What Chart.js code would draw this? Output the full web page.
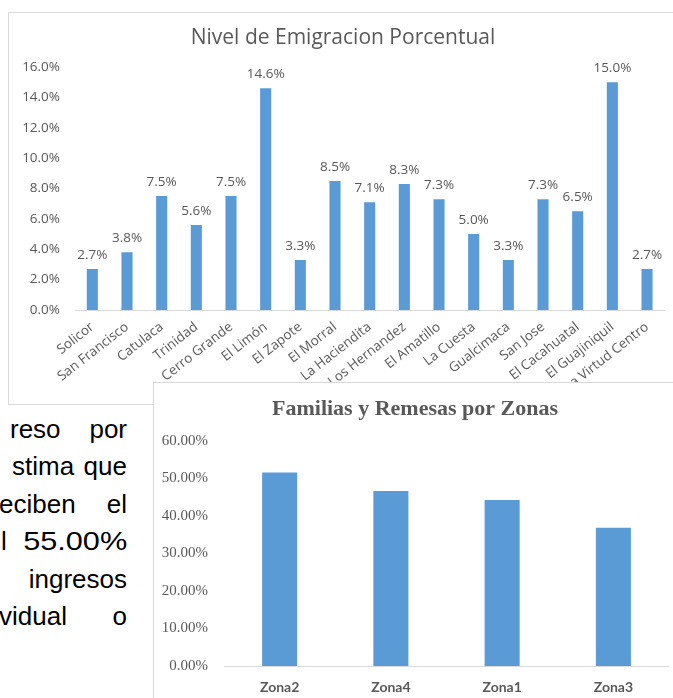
<!DOCTYPE html>
<html>
<head>
<meta charset="utf-8">
<script src="https://cdn.jsdelivr.net/npm/chart.js@4.4.1/dist/chart.umd.min.js"></script>
<style>
  html, body { margin: 0; padding: 0; background: #fff; }
  body { width: 673px; height: 698px; overflow: hidden; position: relative; }
  .frame { position: absolute; background: #fff; border: 1px solid #d9d9d9; box-sizing: border-box; }
  #frame1 { left: 8px; top: 12px; width: 700px; height: 393px; }
  #frame2 { left: 153px; top: 382px; width: 560px; height: 340px; z-index: 2; }
  #box1 { position: absolute; left: 11px; top: -1px; width: 646px; height: 392px; }
  #box2 { position: absolute; left: 7px; top: -1px; width: 508px; height: 330px; }
  .line { position: absolute; font-family: "Liberation Sans", Arial, sans-serif; font-size: 26px;
          color: #000; white-space: nowrap; display: flex; justify-content: space-between; line-height: 30px; }
  .wide { display: inline-block; transform: scaleX(1.18); transform-origin: right center; }
</style>
</head>
<body>

<div class="line" style="left:10px; width:117px; top:414px;"><span>reso</span><span>por</span></div>
<div class="line" style="left:12px; width:115px; top:451px;"><span>stima</span><span>que</span></div>
<div class="line" style="left:-1px; width:128px; top:489px;"><span>eciben</span><span>el</span></div>
<div class="line" style="left:1px; width:126px; top:526px;"><span>l</span><span class="wide">55.00%</span></div>
<div class="line" style="left:2px; width:125px; top:564px;"><span></span><span>ingresos</span></div>
<div class="line" style="left:-1px; width:128px; top:601px;"><span>vidual</span><span>o</span></div>

<div class="frame" id="frame1"><div id="box1"><canvas id="chart1"></canvas></div></div>
<div class="frame" id="frame2"><div id="box2"><canvas id="chart2"></canvas></div></div>

<script>
// chart 1 data
var lugares = ["Solicor", "San Francisco", "Catulaca", "Trinidad", "Cerro Grande", "El Limón", "El Zapote",
  "El Morral", "La Haciendita", "Los Hernandez", "El Amatillo", "La Cuesta", "Gualcimaca", "San Jose",
  "El Cacahuatal", "El Guajiniquil", "La Virtud Centro"];
var emigracion = [2.7, 3.8, 7.5, 5.6, 7.5, 14.6, 3.3, 8.5, 7.1, 8.3, 7.3, 5.0, 3.3, 7.3, 6.5, 15.0, 2.7];

// chart 2 data
var zonas = ["Zona2", "Zona4", "Zona1", "Zona3"];
var remesas = [51.6, 46.7, 44.3, 36.9];

var azul = "#5b9bd5";
var gris = "#595959";

// draws the % value over each bar
var valueLabels = {
  id: "valueLabels",
  afterDatasetsDraw: function(chart) {
    var ctx = chart.ctx;
    var meta = chart.getDatasetMeta(0);
    ctx.save();
    ctx.font = "13.5px 'Open Sans'";
    ctx.fillStyle = gris;
    ctx.textAlign = "center";
    ctx.textBaseline = "middle";
    meta.data.forEach(function(bar, i) {
      ctx.fillText(chart.data.datasets[0].data[i].toFixed(1) + "%", bar.x, bar.y - 14);
    });
    ctx.restore();
  }
};

new Chart(document.getElementById("chart1"), {
  type: "bar",
  data: {
    labels: lugares,
    datasets: [{
      data: emigracion,
      backgroundColor: azul,
      borderWidth: 0,
      categoryPercentage: 1,
      barPercentage: 0.32
    }]
  },
  options: {
    responsive: true,
    maintainAspectRatio: false,
    animation: false,
    layout: { padding: 0 },
    plugins: {
      legend: { display: false },
      tooltip: { enabled: false },
      title: {
        display: true,
        text: "Nivel de Emigracion Porcentual",
        color: gris,
        font: { family: "Open Sans", size: 21, weight: "normal" },
        padding: { top: 13.4, bottom: 16.4 }
      }
    },
    scales: {
      y: {
        min: 0, max: 16,
        grid: { display: false, drawTicks: false },
        border: { display: false },
        ticks: {
          stepSize: 2, padding: 15, color: gris,
          font: { family: "Open Sans", size: 13.5 },
          callback: function(v) { return v.toFixed(1) + "%"; }
        },
        afterFit: function(s) { s.width = 55; }
      },
      x: {
        grid: { display: false, drawTicks: false },
        border: { display: true, color: "#d9d9d9", width: 1 },
        ticks: {
          maxRotation: 38, minRotation: 38, autoSkip: false, padding: 9, color: gris,
          font: { family: "Open Sans", size: 13.5 }
        },
        afterFit: function(s) { s.height = 94; }
      }
    }
  },
  plugins: [valueLabels]
});

new Chart(document.getElementById("chart2"), {
  type: "bar",
  data: {
    labels: zonas,
    datasets: [{
      data: remesas,
      backgroundColor: azul,
      borderWidth: 0,
      categoryPercentage: 1,
      barPercentage: 0.315
    }]
  },
  options: {
    responsive: true,
    maintainAspectRatio: false,
    animation: false,
    layout: { padding: 0 },
    plugins: {
      legend: { display: false },
      tooltip: { enabled: false },
      title: {
        display: true,
        text: "Familias y Remesas por Zonas",
        color: gris,
        font: { family: "Liberation Serif", size: 22, weight: "bold" },
        padding: { top: 13.8, bottom: 18.8 }
      }
    },
    scales: {
      y: {
        min: 0, max: 60,
        grid: { display: false, drawTicks: false },
        border: { display: false },
        ticks: {
          stepSize: 10, padding: 16, color: gris,
          font: { family: "Liberation Serif", size: 15 },
          callback: function(v) { return v.toFixed(2) + "%"; }
        },
        afterFit: function(s) { s.width = 63; }
      },
      x: {
        grid: { display: false, drawTicks: false },
        border: { display: true, color: "#d9d9d9", width: 1 },
        ticks: {
          padding: 13, color: gris,
          font: { family: "Lato", size: 14, weight: "bold" }
        },
        afterFit: function(s) { s.height = 46; }
      }
    }
  }
});
</script>
</body>
</html>
